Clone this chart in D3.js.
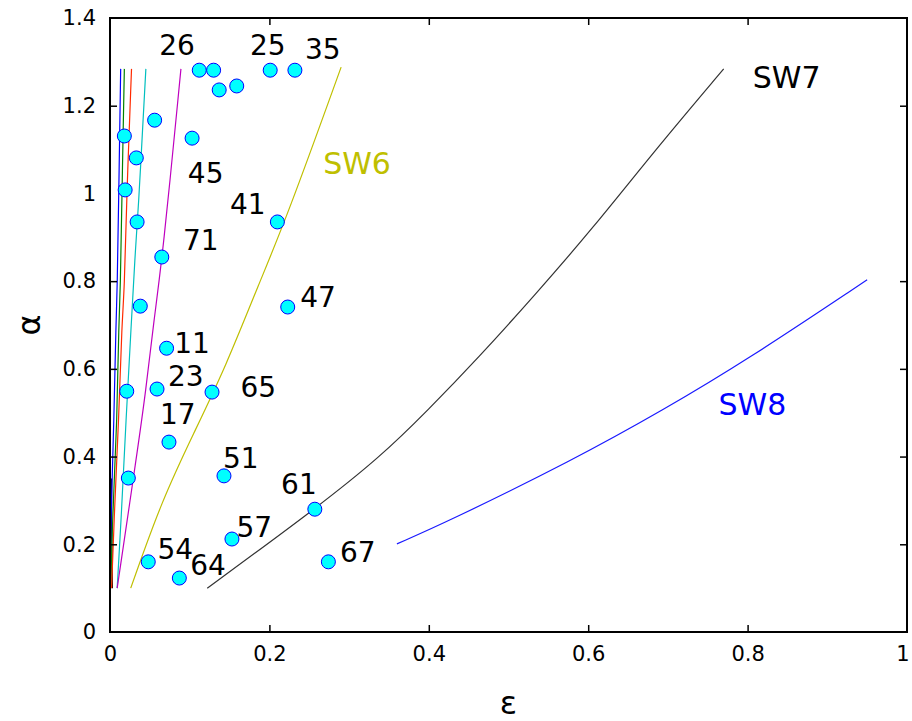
<!DOCTYPE html>
<html>
<head>
<meta charset="utf-8">
<script src="https://cdn.jsdelivr.net/npm/d3@7"></script>
<style>
  body { margin: 0; background: #fff; }
  svg { display: block; font-family: "DejaVu Sans", sans-serif; }
</style>
</head>
<body>
<div id="chart"></div>
<script>
// data: [epsilon, alpha]
const points = [
  [0.112, 1.281], [0.130, 1.281], [0.137, 1.236], [0.159, 1.245], [0.201, 1.281], [0.232, 1.281],
  [0.056, 1.167], [0.103, 1.126], [0.018, 1.131], [0.033, 1.081], [0.019, 1.008],
  [0.034, 0.935], [0.065, 0.855], [0.210, 0.935], [0.038, 0.743], [0.223, 0.741], [0.071, 0.647],
  [0.021, 0.549], [0.059, 0.554], [0.128, 0.547],
  [0.074, 0.433], [0.023, 0.351], [0.143, 0.356], [0.153, 0.212], [0.048, 0.160], [0.087, 0.123],
  [0.257, 0.280], [0.274, 0.160]
];

const curveBlack0 = [[0.003, 0.10], [0.002, 0.22], [0.002, 0.35]];
const curveBlue = [[0.000, 0.10], [0.001, 0.255], [0.005, 0.483], [0.0075, 0.711], [0.009, 0.773], [0.011, 1.0], [0.0134, 1.284]];
const curveGreen = [[0.001, 0.10], [0.003, 0.255], [0.009, 0.483], [0.011, 0.711], [0.013, 0.773], [0.015, 1.0], [0.018, 1.284]];
const curveRed = [[0.002, 0.10], [0.005, 0.255], [0.011, 0.483], [0.015, 0.711], [0.018, 0.773], [0.021, 1.0], [0.027, 1.284]];
const curveCyan = [[0.009, 0.10], [0.014, 0.255], [0.020, 0.483], [0.027, 0.711], [0.031, 0.848], [0.036, 0.978], [0.041, 1.151], [0.045, 1.284]];
const curveMagenta = [[0.009, 0.10], [0.034, 0.408], [0.045, 0.55], [0.055, 0.711], [0.066, 0.855], [0.089, 1.284]];
const curveSW6 = [[0.026, 0.10], [0.065, 0.300], [0.105, 0.453], [0.145, 0.604], [0.187, 0.795], [0.222, 0.946], [0.290, 1.288]];
const curveSW7 = [[0.122, 0.10], [0.257, 0.280], [0.339, 0.399], [0.399, 0.506], [0.463, 0.627], [0.531, 0.764], [0.607, 0.923], [0.684, 1.099], [0.770, 1.284]];
const curveSW8 = [[0.360, 0.201], [0.423, 0.251], [0.581, 0.392], [0.694, 0.506], [0.799, 0.620], [0.950, 0.803]];

const xTicks = [0, 0.2, 0.4, 0.6, 0.8, 1];
const yTicks = [0, 0.2, 0.4, 0.6, 0.8, 1, 1.2, 1.4];

// point labels: [text, epsilon, alpha]
const pointLabels = [
  ["26", 0.084, 1.338], ["25", 0.198, 1.338], ["35", 0.267, 1.329],
  ["45", 0.120, 1.047], ["41", 0.173, 0.976], ["71", 0.114, 0.894],
  ["47", 0.261, 0.764], ["11", 0.103, 0.659], ["23", 0.095, 0.584],
  ["65", 0.186, 0.559], ["17", 0.085, 0.497], ["51", 0.164, 0.397],
  ["61", 0.237, 0.337], ["57", 0.181, 0.239], ["54", 0.082, 0.189],
  ["64", 0.123, 0.153], ["67", 0.311, 0.182]
];
const curveLabels = [
  ["SW6", 0.310, 1.069, "#bfbf00"],
  ["SW7", 0.849, 1.265, "#000000"],
  ["SW8", 0.806, 0.520, "#0000ff"]
];

const width = 912, height = 721;
const margin = { top: 18, right: 5, bottom: 89, left: 110 };

const x = d3.scaleLinear().domain([0, 1]).range([margin.left, width - margin.right]);
const y = d3.scaleLinear().domain([0, 1.4]).range([height - margin.bottom, margin.top]);

const svg = d3.select("#chart").append("svg")
  .attr("width", width)
  .attr("height", height);

// curves
const line = d3.line()
  .x((d) => x(d[0]))
  .y((d) => y(d[1]))
  .curve(d3.curveBasis);

const curves = [
  [curveBlack0, "#000000"],
  [curveBlue, "#0000ff"],
  [curveGreen, "#008000"],
  [curveRed, "#ff2a00"],
  [curveCyan, "#00bfbf"],
  [curveMagenta, "#bf00bf"],
  [curveSW6, "#bfbf00"],
  [curveSW7, "#333333"],
  [curveSW8, "#1a1aff"]
];

svg.append("g")
  .attr("fill", "none")
  .attr("stroke-width", 1.2)
  .selectAll("path")
  .data(curves)
  .join("path")
  .attr("stroke", (d) => d[1])
  .attr("d", (d) => line(d[0]));

// points
svg.append("g")
  .selectAll("circle")
  .data(points)
  .join("circle")
  .attr("cx", (d) => x(d[0]))
  .attr("cy", (d) => y(d[1]))
  .attr("r", 7)
  .attr("fill", "#00ffff")
  .attr("stroke", "#0000ff")
  .attr("stroke-width", 1);

// labels
svg.append("g")
  .attr("font-size", 28)
  .attr("text-anchor", "middle")
  .attr("fill", "#000")
  .selectAll("text")
  .data(pointLabels)
  .join("text")
  .attr("x", (d) => x(d[1]))
  .attr("y", (d) => y(d[2]))
  .attr("dy", "0.36em")
  .text((d) => d[0]);

svg.append("g")
  .attr("font-size", 30)
  .attr("text-anchor", "middle")
  .selectAll("text")
  .data(curveLabels)
  .join("text")
  .attr("x", (d) => x(d[1]))
  .attr("y", (d) => y(d[2]))
  .attr("dy", "0.36em")
  .attr("fill", (d) => d[3])
  .text((d) => d[0]);

// axes box with inward ticks
const tickLen = 7;
const xAxisB = d3.axisBottom(x).tickValues(xTicks).tickSizeInner(-tickLen).tickSizeOuter(0).tickPadding(14)
  .tickFormat(d3.format("~g"));
const xAxisT = d3.axisTop(x).tickValues(xTicks).tickSizeInner(-tickLen).tickSizeOuter(0).tickFormat("");
const yAxisL = d3.axisLeft(y).tickValues(yTicks).tickSizeInner(-tickLen).tickSizeOuter(0).tickPadding(14)
  .tickFormat(d3.format("~g"));
const yAxisR = d3.axisRight(y).tickValues(yTicks).tickSizeInner(-tickLen).tickSizeOuter(0).tickFormat("");

function styleAxis(g) {
  g.select(".domain").remove();
  g.selectAll(".tick line").attr("stroke", "#000").attr("stroke-width", 1.5);
  g.selectAll(".tick text").attr("font-size", 21).attr("fill", "#000")
    .attr("font-family", "DejaVu Sans, sans-serif");
}

const gxb = svg.append("g").attr("transform", `translate(0,${y(0)})`).call(xAxisB).call(styleAxis);
svg.append("g").attr("transform", `translate(0,${y(1.4)})`).call(xAxisT).call(styleAxis);
svg.append("g").attr("transform", `translate(${x(0)},0)`).call(yAxisL).call(styleAxis);
svg.append("g").attr("transform", `translate(${x(1)},0)`).call(yAxisR).call(styleAxis);

// keep the last x label inside the page
gxb.selectAll(".tick text").filter((d) => d === 1).attr("text-anchor", "end").attr("dx", "0.1em");

// hide ticks at the corners (MATLAB-like)
svg.selectAll(".tick").filter((d) => d === 0 || d === 1 || d === 1.4)
  .select("line").remove();

svg.append("rect")
  .attr("x", x(0))
  .attr("y", y(1.4))
  .attr("width", x(1) - x(0))
  .attr("height", y(0) - y(1.4))
  .attr("fill", "none")
  .attr("stroke", "#000")
  .attr("stroke-width", 2);

// axis titles
svg.append("text")
  .attr("x", (x(0) + x(1)) / 2)
  .attr("y", 702)
  .attr("dy", "0.36em")
  .attr("text-anchor", "middle")
  .attr("font-size", 32)
  .text("ε");

svg.append("text")
  .attr("transform", `translate(28,${y(0.7)}) rotate(-90)`)
  .attr("dy", "0.36em")
  .attr("text-anchor", "middle")
  .attr("font-size", 32)
  .text("α");
</script>
</body>
</html>
